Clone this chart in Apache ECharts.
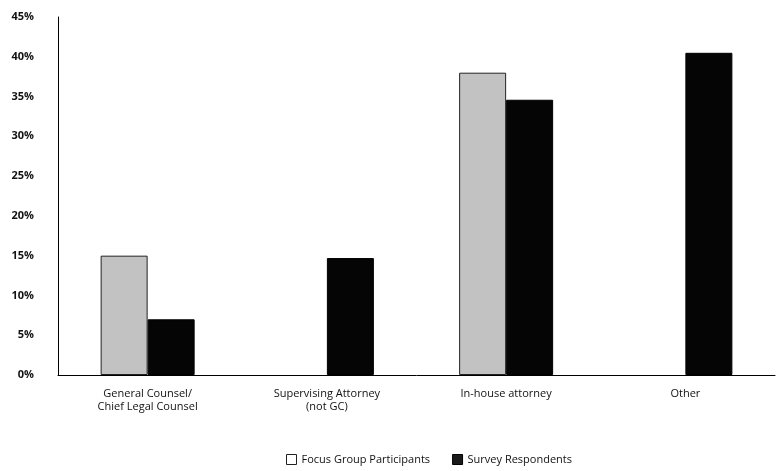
<!DOCTYPE html>
<html>
<head>
<meta charset="utf-8">
<script src="https://cdn.jsdelivr.net/npm/echarts@6/dist/echarts.min.js"></script>
<style>
  html, body { margin: 0; padding: 0; background: #fff; }
  #chart { width: 779px; height: 471px; }
</style>
</head>
<body>
<div id="chart"></div>
<script>
// Job titles: share of focus group participants vs. survey respondents (%)
const categories = [
  'General Counsel/\nChief Legal Counsel',
  'Supervising Attorney\n(not GC)',
  'In-house attorney',
  'Other'
];
const focusGroup = [15, 0, 38, 0];
const survey = [7, 14.7, 34.6, 40.5];
const yTicks = { min: 0, max: 45, interval: 5 };

const font = '"Open Sans", "Noto Sans", sans-serif';

// zero-height bars get no outline so they don't leave a stub on the axis
const asBars = arr => arr.map(v => v === 0 ? { value: v, itemStyle: { borderWidth: 0 } } : v);

const chart = echarts.init(document.getElementById('chart'), null, { renderer: 'canvas' });
chart.setOption({
  animation: false,
  backgroundColor: '#ffffff',
  grid: { left: 58, right: 4, top: 17, bottom: 96, containLabel: false },
  legend: {
    bottom: 1,
    left: 281,
    icon: 'rect',
    itemWidth: 10,
    itemHeight: 10,
    itemGap: 22,
    textStyle: { fontFamily: font, fontSize: 11, color: '#111' },
    data: [
      { name: 'Focus Group Participants', itemStyle: { color: '#ffffff', borderColor: '#222', borderWidth: 1 } },
      { name: 'Survey Respondents', itemStyle: { color: '#1a1a1a', borderColor: '#000', borderWidth: 1 } }
    ]
  },
  xAxis: {
    type: 'category',
    data: categories,
    axisLine: { show: true, lineStyle: { color: '#000', width: 1 } },
    axisTick: { show: false },
    axisLabel: {
      interval: 0,
      margin: 12,
      fontFamily: font,
      fontSize: 11,
      lineHeight: 13,
      color: '#111'
    },
    splitLine: { show: false }
  },
  yAxis: {
    type: 'value',
    min: yTicks.min,
    max: yTicks.max,
    interval: yTicks.interval,
    axisLine: { show: true, lineStyle: { color: '#000', width: 1 } },
    axisTick: { show: false },
    splitLine: { show: false },
    axisLabel: {
      margin: 24,
      fontFamily: font,
      fontSize: 11,
      fontWeight: 'bold',
      color: '#111',
      formatter: v => v + '%'
    }
  },
  series: [
    {
      name: 'Focus Group Participants',
      type: 'bar',
      data: asBars(focusGroup),
      barWidth: 47,
      barGap: '0%',
      itemStyle: { color: '#c2c2c2', borderColor: '#222', borderWidth: 1 }
    },
    {
      name: 'Survey Respondents',
      type: 'bar',
      data: asBars(survey),
      barWidth: 47,
      barGap: '0%',
      itemStyle: { color: '#050505', borderColor: '#000', borderWidth: 1 }
    }
  ]
});
</script>
</body>
</html>
